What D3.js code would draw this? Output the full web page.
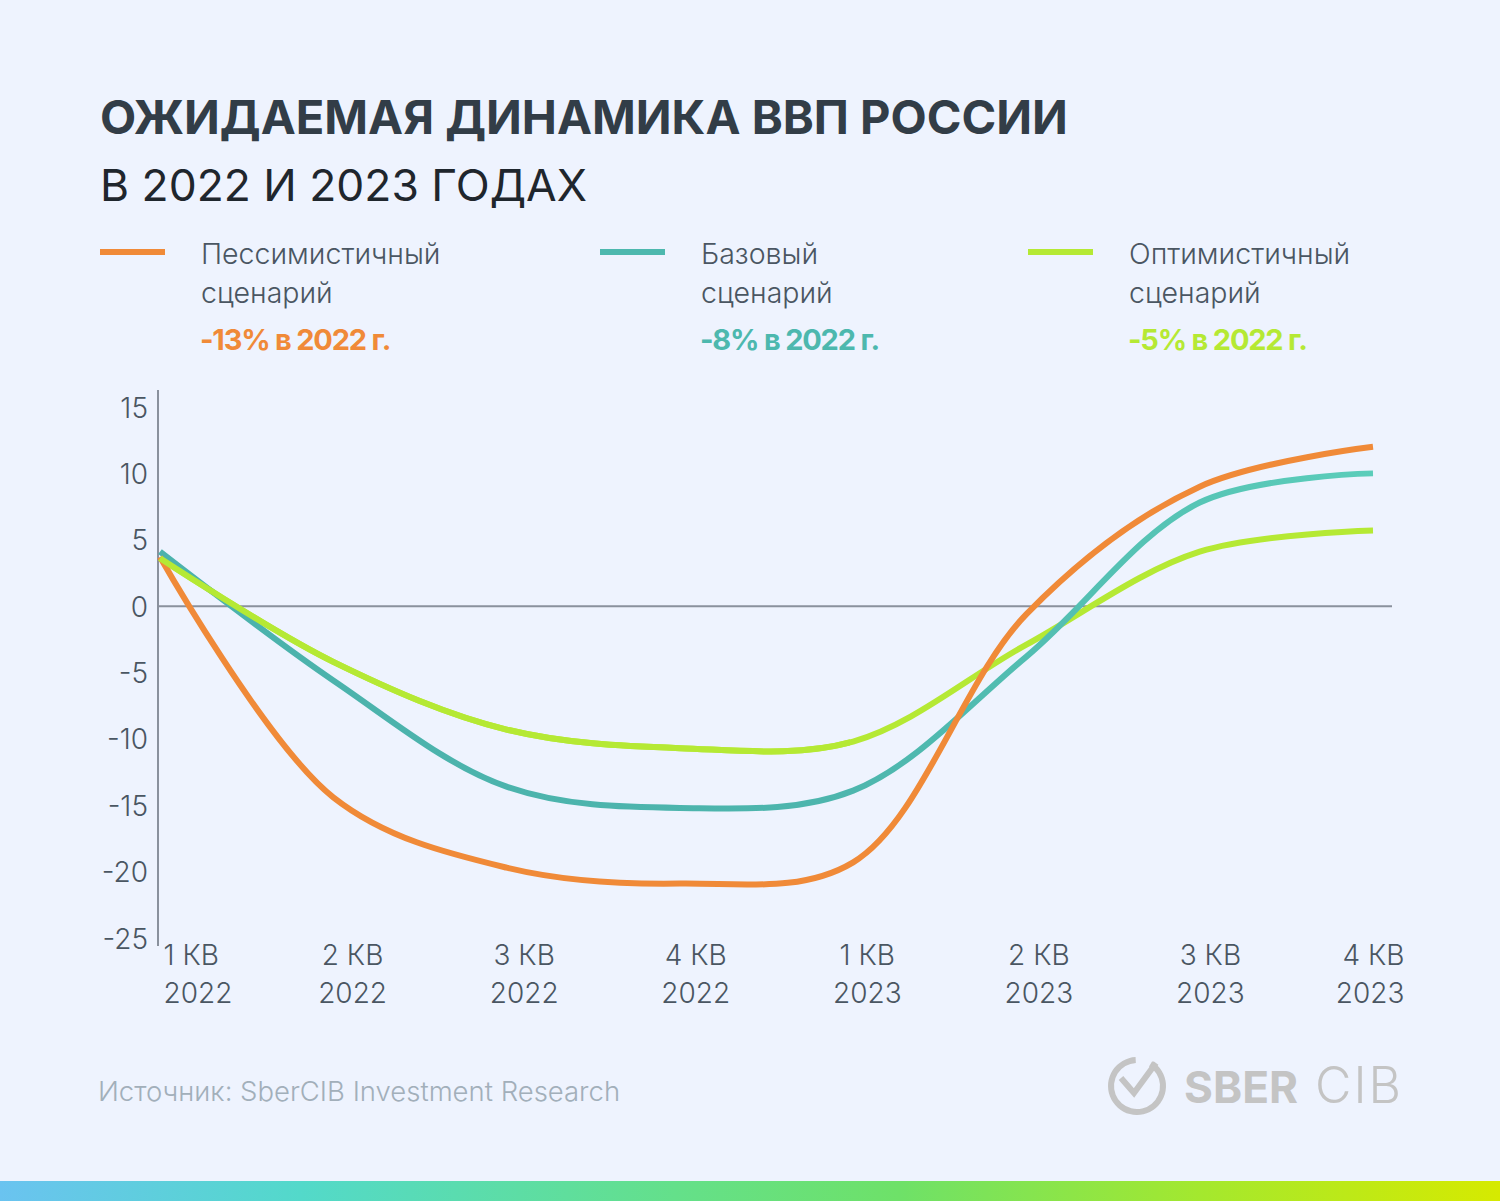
<!DOCTYPE html>
<html><head><meta charset="utf-8">
<script src="https://cdn.jsdelivr.net/npm/d3@7"></script>
<style>
html,body{margin:0;padding:0;background:#EEF3FE;}
svg{display:block;}
text{font-family:Inter, "Noto Sans", sans-serif;}
</style></head>
<body>
<svg id="c" width="1500" height="1201"></svg>
<script>
const quarterLabels = ["1 КВ","2 КВ","3 КВ","4 КВ","1 КВ","2 КВ","3 КВ","4 КВ"];
const yearLabels = ["2022","2022","2022","2022","2023","2023","2023","2023"];
const pessimistic = [3.7, -14.4, -19.7, -20.9, -19.3, -0.6, 9.0, 12.0];
const base = [4.1, -5.6, -13.6, -15.2, -13.9, -3.8, 7.8, 10.0];
const optimistic = [3.6, -4.2, -9.3, -10.7, -10.2, -2.9, 4.1, 5.7];
const yTicks = [15, 10, 5, 0, -5, -10, -15, -20, -25];
const seriesNames = ["Пессимистичный", "Базовый", "Оптимистичный"];
const seriesNotes = ["-13% в 2022 г.", "-8% в 2022 г.", "-5% в 2022 г."];
const titleLines = ["ОЖИДАЕМАЯ ДИНАМИКА ВВП РОССИИ", "В 2022 И 2023 ГОДАХ"];
const sourceText = "Источник: SberCIB Investment Research";

const svg = d3.select("#c");
const colors = {orange:"#F08A38", teal:"url(#tealGrad)", tealSolid:"#4DB8AE", green:"#B5E934"};

const defs = svg.append("defs");
const tg = defs.append("linearGradient").attr("id","tealGrad").attr("gradientUnits","userSpaceOnUse")
  .attr("x1",160).attr("x2",1373).attr("y1",0).attr("y2",0);
tg.append("stop").attr("offset","0").attr("stop-color","#4BB2AC");
tg.append("stop").attr("offset","0.55").attr("stop-color","#4DB5AD");
tg.append("stop").attr("offset","1").attr("stop-color","#5BCDBA");
const bg = defs.append("linearGradient").attr("id","barGrad").attr("x1","0").attr("x2","1");
[["0","#6AC3F0"],["0.2","#53D9CA"],["0.45","#64E08A"],["0.6","#6EE168"],["0.8","#A4E82E"],["1","#D6EA00"]]
  .forEach(([o,c])=>bg.append("stop").attr("offset",o).attr("stop-color",c));
defs.append("clipPath").attr("id","leftClip").append("rect").attr("x",150).attr("y",380).attr("width",700).attr("height",560);

svg.append("rect").attr("width",1500).attr("height",1201).attr("fill","#EEF3FE");

function fit(sel, w){
  const n = sel.node(); let fs = parseFloat(sel.attr("font-size"));
  for(let i=0;i<3;i++){ const l = n.getComputedTextLength(); fs = fs*w/l; sel.attr("font-size",fs); }
}
// Title
const t1 = svg.append("text").attr("x",100).attr("y",134).attr("font-size",48).attr("font-weight",700)
  .attr("fill","#323D47").text(titleLines[0]);
fit(t1, 968);
const t2 = svg.append("text").attr("x",100).attr("y",201).attr("font-size",48).attr("font-weight",400)
  .attr("fill","#1F262D").text(titleLines[1]);
fit(t2, 487);

// Legend
const legX = [100, 600, 1028];
const legColors = [colors.orange, colors.tealSolid, colors.green];
legX.forEach((x,i)=>{
  svg.append("line").attr("x1",x).attr("x2",x+65).attr("y1",252).attr("y2",252)
    .attr("stroke",legColors[i]).attr("stroke-width",6);
  const tx = x+101;
  svg.append("text").attr("x",tx).attr("y",264).attr("font-size",28.5).attr("font-weight",300)
    .attr("fill","#4A5662").text(seriesNames[i]);
  svg.append("text").attr("x",tx).attr("y",303).attr("font-size",28.5).attr("font-weight",300)
    .attr("fill","#4A5662").text("сценарий");
  svg.append("text").attr("x",tx-1).attr("y",350).attr("font-size",29).attr("font-weight",700)
    .attr("letter-spacing",-1.2).attr("fill",legColors[i]).text(seriesNotes[i]);
});

// Scales
const x = d3.scalePoint().domain(d3.range(quarterLabels.length)).range([160,1373]);
const xLabel = d3.scalePoint().domain(d3.range(quarterLabels.length)).range([180.5,1381.5]);
const y = d3.scaleLinear().domain([-25,15]).range([938,407]);

// Y axis labels
const yAxis = svg.append("g").attr("transform","translate(148,0)")
  .call(d3.axisLeft(y).tickValues(yTicks).tickSize(0).tickPadding(0).tickFormat(d=>String(d)));
yAxis.select(".domain").remove();
yAxis.selectAll("text").attr("font-size",28).attr("font-weight",300).attr("fill","#4A5662")
  .attr("font-family","Inter, sans-serif").attr("dy","0.36em");

// axis lines
svg.append("line").attr("x1",158).attr("x2",158).attr("y1",390).attr("y2",946)
  .attr("stroke","#8A919D").attr("stroke-width",2);
svg.append("line").attr("x1",158).attr("x2",1392).attr("y1",y(0)).attr("y2",y(0))
  .attr("stroke","#8A919D").attr("stroke-width",2);

// X axis labels
const xAxis = svg.append("g").attr("transform","translate(0,940)")
  .call(d3.axisBottom(xLabel).tickSize(0).tickPadding(0).tickFormat(i=>quarterLabels[i]));
xAxis.select(".domain").remove();
xAxis.selectAll(".tick text").each(function(i){
  const t = d3.select(this);
  t.text(null).attr("font-size",28).attr("font-weight",300).attr("fill","#4A5662")
   .attr("font-family","Inter, sans-serif").attr("text-anchor","middle").attr("y",0).attr("dy",0);
  t.append("tspan").attr("x",0).attr("y",25).text(quarterLabels[i]);
  t.append("tspan").attr("x",0).attr("y",63).text(yearLabels[i]);
});
// clamp first and last labels to plot edges
const ticks = xAxis.selectAll(".tick").nodes();
d3.select(ticks[0]).select("text").attr("text-anchor","start").selectAll("tspan").attr("x",163-xLabel(0));
d3.select(ticks[ticks.length-1]).select("text").attr("text-anchor","end").selectAll("tspan").attr("x",1404-xLabel(7));

// Lines
const line = d3.line().x((d,i)=>x(i)).y(d=>y(d)).curve(d3.curveCatmullRom.alpha(0.5));
[[optimistic, colors.green],[base, colors.teal],[pessimistic, colors.orange],[optimistic, colors.green]].forEach(([data,c],k)=>{
  const p = svg.append("path").datum(data).attr("d",line).attr("fill","none").attr("stroke",c)
    .attr("stroke-width",6).attr("stroke-linejoin","round");
  if(k===3){ p.attr("clip-path","url(#leftClip)"); }
});

// Source
const src = svg.append("text").attr("x",98).attr("y",1101).attr("font-size",27).attr("font-weight",300)
  .attr("fill","#A2AFBA").text(sourceText);
fit(src, 522);

// Logo
const lg = svg.append("g");
lg.append("path")
  .attr("d", d3.arc()({innerRadius:23, outerRadius:29, startAngle:0.55, endAngle:2*Math.PI-0.05}))
  .attr("transform","translate(1137,1086)").attr("fill","#C4C4C4");
lg.append("path").attr("d","M1121,1078 L1134,1093 L1156,1063").attr("fill","none")
  .attr("stroke","#C4C4C4").attr("stroke-width",6).attr("stroke-linejoin","miter");
const sb = lg.append("text").attr("x",1184).attr("y",1103).attr("font-size",48).attr("font-weight",700)
  .attr("fill","#C4C4C4").text("SBER");
fit(sb, 114);
const cib = lg.append("text").attr("x",1315).attr("y",1103).attr("font-size",44).attr("font-weight",300)
  .attr("fill","#C4C4C4").attr("letter-spacing",2).text("CIB");
fit(cib, 88);

// bottom gradient bar
svg.append("rect").attr("x",0).attr("y",1181).attr("width",1500).attr("height",20).attr("fill","url(#barGrad)");
</script>
</body></html>
